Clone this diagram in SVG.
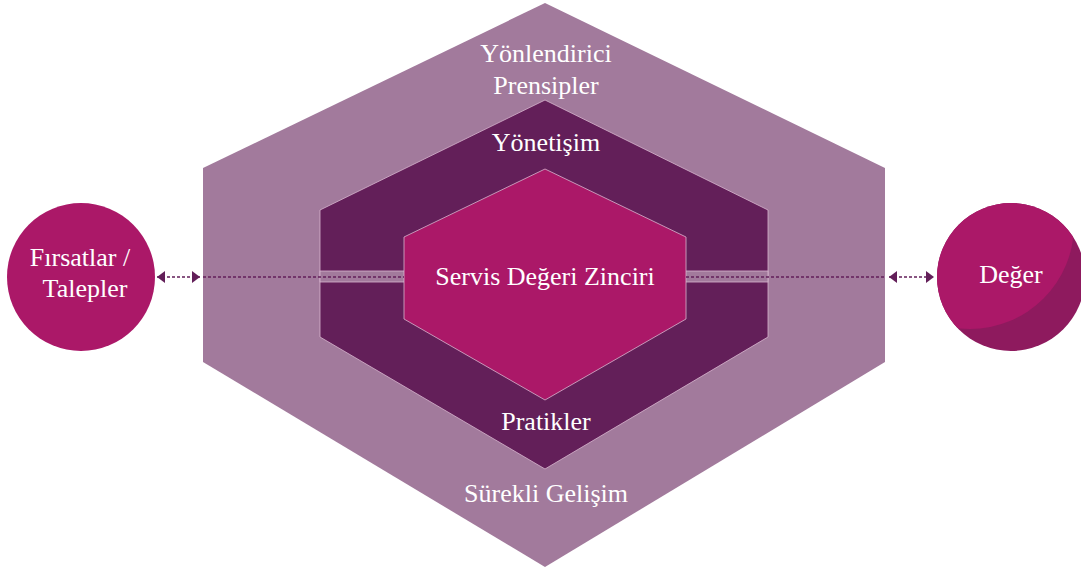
<svg xmlns="http://www.w3.org/2000/svg" width="1081" height="571" viewBox="0 0 1081 571">
<style>
.lbl{font-family:'Liberation Serif',serif;fill:#ffffff;text-anchor:middle;font-size:26px}
.dash{stroke:#631f59;stroke-width:1.6;stroke-dasharray:3 2;fill:none}
.edge{stroke:#d8b6cf;stroke-width:0.8}
</style>
<defs>
<marker id="ah" viewBox="0 0 8 12" refX="8" refY="6" markerWidth="8" markerHeight="12" markerUnits="userSpaceOnUse" orient="auto-start-reverse">
<path d="M0,0 L8,6 L0,12 z" fill="#631f59"/>
</marker>
<clipPath id="cR"><circle cx="1011" cy="277" r="74"/></clipPath>
</defs>
<rect width="1081" height="571" fill="#ffffff"/>
<g id="outer">
<polygon points="545,3 885,168 885,362 545,567 203,362 203,168" fill="#a27a9c"/>
<text class="lbl" x="546" y="62">Yönlendirici</text>
<text class="lbl" x="546" y="94">Prensipler</text>
<text class="lbl" x="546" y="502">Sürekli Gelişim</text>
</g>
<g id="middle">
<polygon points="545,100 768,210 768,337 545,469 320,337 320,210" fill="#631f59" class="edge"/>
<rect x="320" y="271" width="86" height="11" fill="#a27a9c" class="edge"/>
<rect x="684" y="271" width="84" height="11" fill="#a27a9c" class="edge"/>
<text class="lbl" x="546" y="151">Yönetişim</text>
<text class="lbl" x="546" y="430">Pratikler</text>
</g>
<g id="inner">
<polygon points="545,169 686,237 686,319 545,400 404,319 404,237" fill="#ab1868" class="edge"/>
<text class="lbl" x="545" y="285" font-size="25.5">Servis Değeri Zinciri</text>
</g>
<g id="left-circle">
<circle cx="81" cy="277" r="74" fill="#ab1868"/>
<text class="lbl" x="80" y="266">Fırsatlar /</text>
<text class="lbl" x="85" y="297">Talepler</text>
</g>
<g id="right-circle">
<circle cx="1011" cy="277" r="74" fill="#8e1a5e"/>
<circle cx="970" cy="225" r="104" fill="#ab1868" clip-path="url(#cR)"/>
<text class="lbl" x="1011" y="283">Değer</text>
</g>
<g id="connectors">
<line class="dash" x1="157" y1="277" x2="200" y2="277" marker-start="url(#ah)" marker-end="url(#ah)"/>
<line class="dash" x1="203" y1="277" x2="404" y2="277"/>
<line class="dash" x1="686" y1="277" x2="885" y2="277"/>
<line class="dash" x1="889" y1="277" x2="934" y2="277" marker-start="url(#ah)" marker-end="url(#ah)"/>
</g>
</svg>
